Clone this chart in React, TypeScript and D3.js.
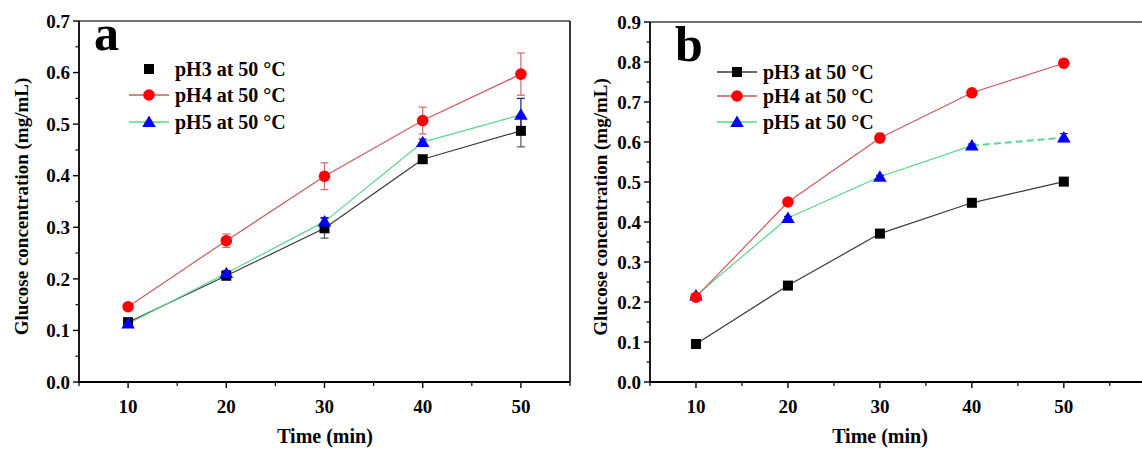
import React from "react";
import * as d3 from "d3";

const times = [10, 20, 30, 40, 50];
const seriesNames = ["pH3 at 50 °C", "pH4 at 50 °C", "pH5 at 50 °C"];

// Panel a
const aPH3 = [0.116, 0.206, 0.298, 0.432, 0.487];
const aPH4 = [0.146, 0.274, 0.399, 0.507, 0.597];
const aPH5 = [0.113, 0.211, 0.311, 0.465, 0.518];
const aErrPH3 = [0.004, 0.004, 0.019, 0.006, 0.031];
const aErrPH4 = [0.004, 0.013, 0.026, 0.026, 0.041];
const aErrPH5 = [0.006, 0.005, 0.008, 0.006, 0.032];

// Panel b
const bPH3 = [0.095, 0.241, 0.371, 0.448, 0.501];
const bPH4 = [0.212, 0.45, 0.61, 0.723, 0.797];
const bPH5 = [0.216, 0.41, 0.513, 0.591, 0.611];
const bErrPH3 = [0.003, 0.004, 0.004, 0.004, 0.01];
const bErrPH4 = [0.003, 0.004, 0.012, 0.004, 0.004];
const bErrPH5 = [0.003, 0.004, 0.004, 0.004, 0.01];

const aYTicks = [0, 0.1, 0.2, 0.3, 0.4, 0.5, 0.6, 0.7];
const bYTicks = [0, 0.1, 0.2, 0.3, 0.4, 0.5, 0.6, 0.7, 0.8, 0.9];
const xTicks = [10, 20, 30, 40, 50];

const FONT = "'Liberation Serif', 'Times New Roman', serif";
const COLORS = {
  line: ["#3a3a3a", "#cc5a5a", "#5ad68a"],
  marker: ["#000000", "#ff0000", "#0000ff"],
  err: ["#555555", "#d06a6a", "#1a1a9a"],
};

type PanelProps = {
  letter: string;
  x0: number;
  x1: number;
  xDomain: [number, number];
  y0: number;
  y1: number;
  yMax: number;
  yTicks: number[];
  data: number[][];
  errs: number[][];
  frameRight: boolean;
  legendX: number;
  legendY: number[];
  legendLines: boolean[];
  letterX: number;
  letterY: number;
  titleX: number;
  xTitleX: number;
  dashedLast: boolean[];
  minorRight: number;
};

function Marker({ kind, x, y }: { kind: number; x: number; y: number }) {
  if (kind === 0)
    return <rect x={x - 5} y={y - 5} width={10} height={10} fill={COLORS.marker[0]} />;
  if (kind === 1) return <circle cx={x} cy={y} r={5.8} fill={COLORS.marker[1]} />;
  const s = 6.5;
  const pts = `${x},${y - s} ${x - s * 1.05},${y + s * 0.75} ${x + s * 1.05},${y + s * 0.75}`;
  return <polygon points={pts} fill={COLORS.marker[2]} />;
}

function Panel(p: PanelProps) {
  const xs = d3.scaleLinear().domain(p.xDomain).range([p.x0, p.x1]);
  const ys = d3.scaleLinear().domain([0, p.yMax]).range([p.y0, p.y1]);
  const minorY = d3.range(0.05, p.yMax, 0.1);
  const minorX = d3.range(5, p.minorRight + 0.1, 5).filter((v) => v % 10 !== 0);
  const order = [0, 2, 1];
  return (
    <g>
      <line x1={p.x0} x2={p.x1} y1={p.y1} y2={p.y1} stroke="#444" strokeWidth={1.6} />
      {p.frameRight && (
        <line x1={p.x1} x2={p.x1} y1={p.y1} y2={p.y0} stroke="#222" strokeWidth={1.8} />
      )}
      <line x1={p.x0} x2={p.x0} y1={p.y0 + 1} y2={p.y1} stroke="#000" strokeWidth={1.8} />
      <line x1={p.x0} x2={p.x1} y1={p.y0} y2={p.y0} stroke="#000" strokeWidth={1.8} />
      {p.yTicks.map((t) => (
        <g key={"y" + t}>
          <line x1={p.x0 - 6} x2={p.x0} y1={ys(t)} y2={ys(t)} stroke="#000" strokeWidth={1.4} />
          <text
            x={p.x0 - 9}
            y={ys(t)}
            dy="0.35em"
            textAnchor="end"
            fontFamily={FONT}
            fontWeight="bold"
            fontSize={19}
          >
            {t.toFixed(1)}
          </text>
        </g>
      ))}
      {minorY.map((t) => (
        <line key={"my" + t} x1={p.x0 - 3.5} x2={p.x0} y1={ys(t)} y2={ys(t)} stroke="#000" strokeWidth={1.2} />
      ))}
      {xTicks.map((t) => (
        <g key={"x" + t}>
          <line x1={xs(t)} x2={xs(t)} y1={p.y0} y2={p.y0 + 6} stroke="#000" strokeWidth={1.4} />
          <text
            x={xs(t)}
            y={p.y0 + 31}
            textAnchor="middle"
            fontFamily={FONT}
            fontWeight="bold"
            fontSize={19}
          >
            {t}
          </text>
        </g>
      ))}
      {minorX.map((t) => (
        <line key={"mx" + t} x1={xs(t)} x2={xs(t)} y1={p.y0} y2={p.y0 + 4} stroke="#000" strokeWidth={1.2} />
      ))}
      <text
        x={p.xTitleX}
        y={443}
        textAnchor="middle"
        fontFamily={FONT}
        fontWeight="bold"
        fontSize={20}
      >
        Time (min)
      </text>
      <text
        transform={`translate(${p.titleX},${(p.y0 + p.y1) / 2 + 5}) rotate(-90)`}
        textAnchor="middle"
        dy="0.35em"
        fontFamily={FONT}
        fontWeight="bold"
        fontSize={19}
      >
        Glucose concentration (mg/mL)
      </text>
      <text x={p.letterX} y={p.letterY} fontFamily={FONT} fontWeight="bold" fontSize={50}>
        {p.letter}
      </text>
      {order.map((si) => {
        const vals = p.data[si];
        const segs = [];
        for (let i = 0; i < vals.length - 1; i++) {
          const dashed = p.dashedLast[si] && i === vals.length - 2;
          segs.push(
            <line
              key={i}
              x1={xs(times[i])}
              y1={ys(vals[i])}
              x2={xs(times[i + 1])}
              y2={ys(vals[i + 1])}
              stroke={COLORS.line[si]}
              strokeWidth={dashed ? 2 : 1.2}
              strokeDasharray={dashed ? "7,4" : undefined}
            />
          );
        }
        return <g key={"l" + si}>{segs}</g>;
      })}
      {order.map((si) => (
        <g key={"e" + si}>
          {p.data[si].map((v, i) => {
            const e = p.errs[si][i];
            const cx = xs(times[i]);
            return (
              <g key={i}>
                <line x1={cx} x2={cx} y1={ys(v - e)} y2={ys(v + e)} stroke={COLORS.err[si]} strokeWidth={1.2} />
                <line x1={cx - 4} x2={cx + 4} y1={ys(v + e)} y2={ys(v + e)} stroke={COLORS.err[si]} strokeWidth={1.2} />
                <line x1={cx - 4} x2={cx + 4} y1={ys(v - e)} y2={ys(v - e)} stroke={COLORS.err[si]} strokeWidth={1.2} />
              </g>
            );
          })}
        </g>
      ))}
      {order.map((si) => (
        <g key={"m" + si}>
          {p.data[si].map((v, i) => (
            <Marker key={i} kind={si} x={xs(times[i])} y={ys(v)} />
          ))}
        </g>
      ))}
      {seriesNames.map((name, si) => (
        <g key={"lg" + si}>
          {p.legendLines[si] && (
            <line
              x1={p.legendX - 20}
              x2={p.legendX + 20}
              y1={p.legendY[si]}
              y2={p.legendY[si]}
              stroke={COLORS.line[si]}
              strokeWidth={1.3}
            />
          )}
          <Marker kind={si} x={p.legendX} y={p.legendY[si]} />
          <text
            x={p.legendX + 26}
            y={p.legendY[si]}
            dy="0.33em"
            fontFamily={FONT}
            fontWeight="bold"
            fontSize={20}
          >
            {name}
          </text>
        </g>
      ))}
    </g>
  );
}

export default function App() {
  return (
    <svg
      width={1142}
      height={450}
      style={{ position: "absolute", left: 0, top: 0, background: "#fff" }}
    >
      <rect x={0} y={0} width={1142} height={450} fill="#fff" />
      <Panel
        letter="a"
        x0={79}
        x1={570}
        xDomain={[5, 55]}
        y0={382}
        y1={21}
        yMax={0.7}
        yTicks={aYTicks}
        data={[aPH3, aPH4, aPH5]}
        errs={[aErrPH3, aErrPH4, aErrPH5]}
        frameRight={true}
        legendX={149}
        legendY={[69, 95, 122]}
        legendLines={[false, true, true]}
        letterX={94}
        letterY={50}
        titleX={21}
        xTitleX={325}
        dashedLast={[false, false, false]}
        minorRight={55}
      />
      <Panel
        letter="b"
        x0={650}
        x1={1142}
        xDomain={[5, 58.5]}
        y0={382}
        y1={22}
        yMax={0.9}
        yTicks={bYTicks}
        data={[bPH3, bPH4, bPH5]}
        errs={[bErrPH3, bErrPH4, bErrPH5]}
        frameRight={false}
        legendX={737}
        legendY={[72, 96, 122]}
        legendLines={[true, true, true]}
        letterX={675}
        letterY={61}
        titleX={600}
        xTitleX={880}
        dashedLast={[false, false, true]}
        minorRight={55}
      />
    </svg>
  );
}
